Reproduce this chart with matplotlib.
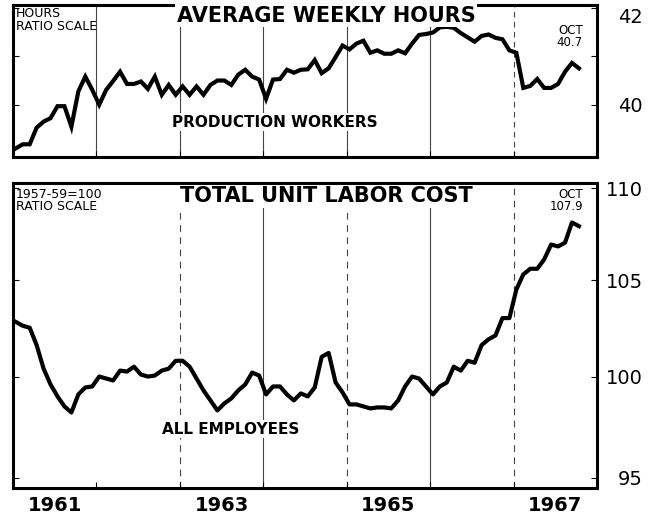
import numpy as np
import matplotlib
matplotlib.use("Agg")
import matplotlib.pyplot as plt
from matplotlib.ticker import NullLocator

# monthly data, Jan 1961 - Oct 1967
hours = [39.13, 39.21, 39.21, 39.54, 39.66, 39.73, 39.97, 39.97, 39.56, 40.27,
         40.57, 40.30, 40.00, 40.30, 40.48, 40.67, 40.42, 40.42, 40.47, 40.32,
         40.57, 40.20, 40.40, 40.20, 40.37, 40.20, 40.37, 40.20, 40.40, 40.49,
         40.49, 40.40, 40.61, 40.71, 40.57, 40.51, 40.12, 40.51, 40.52, 40.71,
         40.65, 40.71, 40.72, 40.91, 40.64, 40.74, 40.97, 41.21, 41.13, 41.25,
         41.31, 41.06, 41.11, 41.04, 41.04, 41.11, 41.05, 41.25, 41.43, 41.45,
         41.48, 41.59, 41.60, 41.58, 41.47, 41.38, 41.29, 41.41, 41.44, 41.37,
         41.34, 41.11, 41.06, 40.34, 40.38, 40.52, 40.34, 40.34, 40.42, 40.67,
         40.85, 40.74]

labor_cost = [102.8, 102.6, 102.5, 101.6, 100.4, 99.6, 99.0, 98.5, 98.2, 99.1,
              99.45, 99.5, 100.0, 99.9, 99.8, 100.3, 100.25, 100.5, 100.1, 100.0,
              100.05, 100.3, 100.4, 100.8, 100.8, 100.5, 99.9, 99.3, 98.8, 98.3,
              98.65, 98.9, 99.3, 99.6, 100.2, 100.05, 99.1, 99.5, 99.5, 99.1,
              98.8, 99.15, 99.0, 99.45, 101.0, 101.2, 99.7, 99.2, 98.6, 98.6,
              98.5, 98.4, 98.45, 98.45, 98.4, 98.8, 99.5, 100.0, 99.9, 99.5,
              99.1, 99.5, 99.7, 100.5, 100.3, 100.8, 100.7, 101.6, 101.9, 102.1,
              103.0, 103.0, 104.5, 105.3, 105.6, 105.6, 106.1, 106.9, 106.8, 107.0,
              108.1, 107.9]

months = 1961 + (np.arange(len(hours)) + 0.4) / 12.0

year_lines = [1962, 1963, 1964, 1965, 1966, 1967]
year_labels = ["1961", "1963", "1965", "1967"]
year_label_pos = [1961.5, 1963.5, 1965.5, 1967.5]

W, H = 659, 519
fig = plt.figure(figsize=(W / 100, H / 100), dpi=100)
ax1 = fig.add_axes([13 / W, (H - 157) / H, 584 / W, 152 / H])
ax2 = fig.add_axes([13 / W, (H - 488) / H, 584 / W, 305 / H])

for ax in [ax1, ax2]:
    ax.set_yscale("log")
    ax.set_xlim(1961, 1968)
    for s in ax.spines.values():
        s.set_linewidth(2.2)
    ax.yaxis.set_minor_locator(NullLocator())
    ax.set_xticks(year_lines)
    ax.tick_params(axis="x", which="major", direction="in", length=4,
                   width=0.8, labelbottom=False)
    ax.tick_params(axis="y", which="major", left=True, right=True,
                   labelleft=False, labelright=True, direction="in",
                   length=4, width=0.8, pad=33, labelsize=14)

# top panel: hours
ax1.set_ylim(38.96, 42.06)
ax1.set_yticks([40, 41, 42], labels=["40", "", "42"])
for lab in ax1.get_yticklabels(which="major"):
    lab.set_horizontalalignment("right")
ax1.yaxis.get_major_ticks()[2].label2.set_verticalalignment("top")
for i, yr in enumerate(year_lines):
    ls = (0, (5, 4)) if yr == 1967 else "-"
    ax1.axvline(yr, color="#444444", lw=0.8, ls=ls, zorder=1)
ax1.plot(months, hours, color="black", lw=3, solid_joinstyle="miter", zorder=3)

ax1.text(0.005, 0.985, "HOURS\nRATIO SCALE", transform=ax1.transAxes,
         ha="left", va="top", fontsize=9, linespacing=0.95, zorder=4)
ax1.text(0.536, 0.928, "AVERAGE WEEKLY HOURS", transform=ax1.transAxes,
         ha="center", va="center", fontsize=15, fontweight="bold", zorder=4,
         bbox=dict(facecolor="white", edgecolor="none", pad=1))
ax1.text(0.449, 0.23, "PRODUCTION WORKERS", transform=ax1.transAxes,
         ha="center", va="center", fontsize=11, fontweight="bold", zorder=4,
         bbox=dict(facecolor="white", edgecolor="none", pad=1))
ax1.text(0.976, 0.875, "OCT\n40.7", transform=ax1.transAxes,
         ha="right", va="top", fontsize=8.5, linespacing=0.95, multialignment="right",
         zorder=4)

# bottom panel: unit labor cost
ax2.set_ylim(94.52, 110.28)
ax2.set_yticks([95, 100, 105, 110], labels=["95", "100", "105", "110"])
for lab in ax2.get_yticklabels(which="major"):
    lab.set_horizontalalignment("right")
for yr in year_lines:
    if yr == 1962:
        continue
    ls = (0, (6, 5)) if yr in (1963, 1965, 1967) else "-"
    ax2.axvline(yr, color="#444444", lw=0.8, ls=ls, zorder=1)
ax2.plot(months, labor_cost, color="black", lw=3, zorder=3)

ax2.set_xticks(year_label_pos, labels=year_labels, minor=True)
ax2.tick_params(axis="x", which="minor", length=0, pad=6, labelsize=14,
                labelbottom=True)
for lab in ax2.get_xticklabels(minor=True):
    lab.set_fontweight("bold")

ax2.text(0.005, 0.984, "1957-59=100\nRATIO SCALE", transform=ax2.transAxes,
         ha="left", va="top", fontsize=9, linespacing=0.95, zorder=4)
ax2.text(0.536, 0.957, "TOTAL UNIT LABOR COST", transform=ax2.transAxes,
         ha="center", va="center", fontsize=15, fontweight="bold", zorder=4,
         bbox=dict(facecolor="white", edgecolor="none", pad=1))
ax2.text(0.372, 0.193, "ALL EMPLOYEES", transform=ax2.transAxes,
         ha="center", va="center", fontsize=11, fontweight="bold", zorder=4,
         bbox=dict(facecolor="white", edgecolor="none", pad=1))
ax2.text(0.976, 0.984, "OCT\n107.9", transform=ax2.transAxes,
         ha="right", va="top", fontsize=8.5, linespacing=0.95, multialignment="right",
         zorder=4)

fig.savefig("out.png", dpi=100, facecolor="white")
